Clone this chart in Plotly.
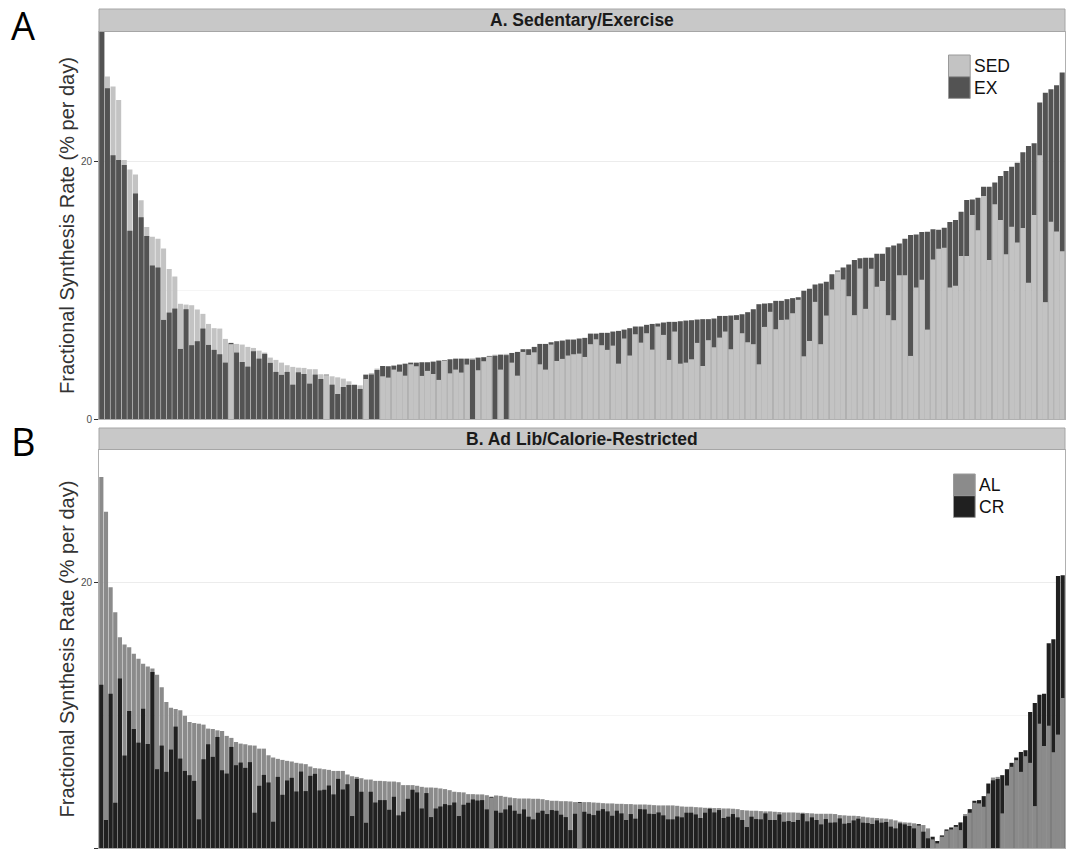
import numpy as np
import plotly.graph_objects as go

# ---- Panel A: sedentary vs exercise, fractional synthesis rate (% per day) ----
sed = [31.0, 26.55, 25.77, 24.73, 20.08, 19.35, 18.96, 16.95, 14.88, 14.13,
       13.97, 13.22, 11.62, 11.05, 8.93, 8.87, 8.82, 8.49, 8.15, 7.37,
       7.04, 7.01, 6.21, 5.80, 5.82, 5.77, 5.59, 5.51, 5.30, 5.15,
       4.76, 4.58, 4.37, 4.17, 4.04, 3.98, 3.96, 3.86, 3.86, 3.47,
       3.40, 3.31, 3.23, 3.13, 2.92, 2.68, 2.61,
       3.10, 3.57, 3.91, 3.31, 3.21, 3.83, 3.67, 3.36, 4.24, 4.09,
       3.34, 3.73, 3.49, 3.03, 4.50, 3.54, 3.83, 3.60, 4.22, 4.71,
       3.78, 4.48, 4.84, 4.99, 3.83, 5.05, 4.37, 3.36, 5.20, 4.97,
       5.17, 4.24, 3.83, 5.77, 4.50, 4.66, 4.92, 5.02, 5.07, 4.81,
       5.80, 6.18, 5.72, 5.36, 5.69, 4.29, 6.24, 4.92, 6.57, 5.92,
       6.65, 5.38, 7.17, 6.52, 4.58, 6.78, 4.29, 4.37, 4.63, 5.90,
       4.11, 6.11, 5.56, 6.31, 6.78, 5.41, 7.68, 6.65, 5.95, 5.80,
       4.24, 7.14, 8.31, 6.96, 7.68, 7.71, 8.20, 9.24, 4.86, 6.05,
       9.08, 5.80, 8.02, 10.04, 11.44, 10.81, 9.52, 8.05, 11.67, 8.54,
       11.64, 10.25, 10.69, 8.05, 7.66, 11.15, 11.15, 4.89, 10.19, 10.79,
       6.93, 12.37, 13.20, 13.27, 10.19, 10.32, 12.63, 12.63, 15.81, 14.64,
       17.28, 12.32, 16.64, 15.42, 12.78, 14.90, 13.69, 14.80, 10.56, 15.81,
       20.44, 9.06, 15.29, 14.54, 13.01]
ex = [30.5, 25.64, 20.44, 20.08, 19.69, 14.59, 17.49, 15.63, 14.18, 11.90,
      11.75, 7.68, 8.25, 8.56, 5.43, 8.51, 5.72, 6.03, 7.01, 5.74,
      5.36, 5.02, 4.37, 5.90, 5.15, 4.42, 4.06, 5.25, 4.68, 5.05,
      4.35, 3.65, 3.42, 3.65, 2.66, 3.62, 3.49, 2.74, 3.44, 3.10,
      3.44, 2.66, 1.94, 2.48, 2.64, 2.64, 2.33,
      3.44, 3.45, 3.80, 4.11, 4.09, 4.14, 4.22, 4.29, 4.37, 4.37,
      4.40, 4.40, 4.45, 4.53, 4.55, 4.63, 4.68, 4.68, 4.68, 4.60,
      4.76, 4.79, 4.89, 4.90, 4.99, 4.95, 5.12, 5.20, 5.41, 5.41,
      5.59, 5.82, 5.82, 5.95, 6.03, 6.08, 6.16, 6.16, 6.24, 6.29,
      6.62, 6.62, 6.68, 6.68, 6.78, 6.83, 6.93, 7.04, 7.17, 7.17,
      7.30, 7.37, 7.40, 7.48, 7.53, 7.53, 7.58, 7.63, 7.66, 7.71,
      7.74, 7.74, 7.79, 7.99, 7.99, 8.02, 8.05, 8.12, 8.28, 8.51,
      8.90, 8.95, 8.98, 9.16, 9.16, 9.29, 9.37, 9.44, 9.94, 10.09,
      10.43, 10.50, 10.63, 11.23, 11.51, 11.75, 11.98, 12.32, 12.47, 12.50,
      12.50, 12.81, 12.81, 13.32, 13.45, 13.61, 13.97, 14.26, 14.31, 14.49,
      14.51, 14.70, 14.67, 14.83, 15.27, 15.42, 16.07, 16.97, 17.02, 17.15,
      18.01, 18.01, 18.34, 18.84, 19.22, 19.56, 19.87, 20.67, 21.16, 21.37,
      24.53, 25.30, 25.56, 25.87, 26.86]

# ---- Panel B: ad lib vs calorie-restricted ----
al = [27.97, 25.34, 19.65, 17.77, 15.89, 15.34, 15.14, 14.64, 14.26, 13.88,
      13.68, 13.53, 13.06, 12.11, 11.00, 10.58, 10.48, 10.38, 9.97, 9.50,
      9.42, 9.37, 9.30, 9.00, 8.97, 8.87, 8.82, 8.45, 8.30, 7.99,
      7.87, 7.82, 7.74, 7.72, 7.49, 7.49, 6.99, 6.82, 6.72, 6.64,
      6.57, 6.52, 6.42, 6.37, 6.32, 6.14, 6.02, 5.99, 5.94, 5.89,
      5.81, 5.81, 5.81, 5.54, 5.41, 5.36, 5.26, 5.16, 5.16, 5.06,
      5.06, 5.04, 5.01, 5.01, 4.96, 4.74, 4.74, 4.74, 4.69, 4.61,
      4.56, 4.56, 4.54, 4.49, 4.44, 4.36, 4.24, 4.21, 4.19, 4.06,
      4.06, 4.04, 4.04, 3.98, 3.80, 3.96, 3.93, 3.86, 3.81, 3.76,
      3.73, 3.73, 3.73, 3.71, 3.71, 3.68, 3.61, 3.56, 3.56, 3.53,
      3.53, 3.51, 3.46, 3.40, 3.46, 3.46, 3.43, 3.41, 3.38, 3.36,
      3.36, 3.33, 3.33, 3.31, 3.31, 3.28, 3.28, 3.28, 3.26, 3.23,
      3.21, 3.21, 3.21, 3.21, 3.18, 3.13, 3.11, 3.11, 3.08, 3.06,
      3.03, 3.03, 3.01, 3.01, 2.98, 2.98, 2.96, 2.93, 2.86, 2.83,
      2.81, 2.81, 2.78, 2.76, 2.76, 2.73, 2.71, 2.68, 2.68, 2.68,
      2.66, 2.66, 2.63, 2.61, 2.58, 2.58, 2.58, 2.58, 2.56, 2.48,
      2.46, 2.43, 2.43, 2.41, 2.36, 2.31, 2.28, 2.26, 2.23, 2.21,
      2.16, 2.08, 1.98, 1.93, 1.91, 1.86, 1.70, 1.73, 1.48, 0.65,
      0.35, 0.85, 1.30, 1.40, 1.60, 1.35, 2.56, 2.66, 3.41, 3.36,
      3.11, 4.11, 5.31, 5.36, 2.61, 4.71, 6.12, 6.62, 5.74, 6.92,
      6.42, 3.16, 9.37, 7.69, 9.22, 7.22, 8.55, 11.30]
cr = [12.31, 2.11, 11.63, 3.41, 12.78, 6.97, 10.33, 8.97, 7.94, 10.50,
      7.84, 13.26, 5.94, 7.72, 5.74, 7.42, 9.15, 6.74, 5.81, 5.49,
      5.06, 2.16, 6.69, 7.82, 6.87, 8.37, 5.86, 5.61, 7.62, 6.24,
      6.44, 6.04, 6.47, 2.66, 4.69, 5.51, 4.94, 1.98, 5.36, 4.01,
      5.09, 5.29, 4.26, 5.76, 4.29, 5.44, 5.59, 4.34, 4.39, 4.71,
      4.04, 5.21, 4.41, 4.81, 2.41, 5.21, 4.24, 1.90, 4.24, 3.43,
      3.61, 3.61, 2.88, 3.86, 2.46, 2.73, 3.71, 4.39, 4.19, 2.98,
      4.14, 2.33, 2.98, 3.13, 3.31, 3.23, 3.43, 2.41, 3.26, 3.41,
      3.66, 3.58, 3.61, 2.91, 3.86, 2.81, 2.66, 2.91, 3.21, 2.81,
      2.58, 2.91, 2.36, 2.16, 2.66, 2.81, 2.56, 2.86, 2.81, 2.51,
      2.33, 1.35, 2.58, 3.46, 2.73, 2.58, 2.48, 2.81, 2.93, 2.76,
      2.43, 2.81, 2.61, 2.11, 2.56, 2.21, 2.93, 2.91, 2.58, 2.56,
      2.68, 2.46, 2.16, 2.16, 2.38, 2.31, 2.66, 2.66, 2.53, 2.26,
      2.66, 2.96, 2.68, 2.86, 2.26, 2.36, 2.56, 2.31, 2.11, 1.58,
      2.36, 2.18, 2.16, 2.61, 2.11, 2.11, 2.53, 1.98, 2.03, 1.96,
      2.11, 2.58, 2.01, 2.31, 2.11, 1.78, 2.18, 1.91, 1.93, 2.23,
      1.83, 1.88, 2.08, 2.21, 1.91, 1.88, 1.81, 2.08, 1.91, 1.96,
      1.61, 1.48, 1.86, 1.78, 1.66, 1.48, 1.80, 1.23, 0.73, 0.85,
      0.53, 0.95, 1.40, 1.55, 1.73, 1.93, 2.40, 2.93, 3.56, 3.61,
      3.91, 4.86, 5.10, 5.20, 5.49, 5.94, 6.42, 6.82, 7.24, 7.37,
      10.25, 10.93, 11.55, 11.63, 15.44, 15.74, 20.50, 20.55]

Y_MAX = 30
Y_TICKS = [0, 20]
Y_TITLE = "Fractional Synthesis Rate (% per day)"

SED_C, EX_C = "#c3c3c3", "#535353"
AL_C, CR_C = "#8b8b8b", "#202020"
BORDER = "#b0b0b0"
STRIP_FILL, STRIP_LINE = "#c8c8c8", "#a6a6a6"

# canvas geometry (pixels)
W, H = 1068, 853
ML, MR, MT, MB = 99, 3, 0, 5
PW, PH = W - ML - MR, H - MT - MB


def fx(px):
    return (px - ML) / PW


def fy(py):
    return 1 - (py - MT) / PH


def overlay_pair(a, b, col_a, col_b, xa, ya):
    """Both series drawn from zero; the taller bar sits behind the shorter one."""
    a = np.asarray(a, dtype=float)
    b = np.asarray(b, dtype=float)
    idx = np.arange(len(a))
    a_top = a >= b
    hi = np.where(a_top, a, b)
    lo = np.where(a_top, b, a)
    hi_col = np.where(a_top, col_a, col_b).tolist()
    lo_col = np.where(a_top, col_b, col_a).tolist()
    common = dict(x=idx, xaxis=xa, yaxis=ya, showlegend=False, hoverinfo="skip")
    return [
        go.Bar(y=hi, marker=dict(color=hi_col, line=dict(width=0)), **common),
        go.Bar(y=lo, marker=dict(color=lo_col, line=dict(width=0)), **common),
    ]


fig = go.Figure()
for tr in overlay_pair(sed, ex, SED_C, EX_C, "x", "y"):
    fig.add_trace(tr)
for tr in overlay_pair(al, cr, AL_C, CR_C, "x2", "y2"):
    fig.add_trace(tr)


def xaxis_cfg(n, anchor):
    return dict(domain=[0, 1], range=[-0.5, n - 0.5], anchor=anchor,
                showticklabels=False, ticks="", showgrid=False, zeroline=False,
                showline=True, mirror=True, linecolor=BORDER, linewidth=1)


def yaxis_cfg(dom, anchor):
    return dict(domain=dom, range=[0, Y_MAX], anchor=anchor,
                tickmode="array", tickvals=Y_TICKS, ticks="outside", ticklen=4,
                tickcolor="#333333", tickfont=dict(size=10, color="#4d4d4d"),
                showgrid=True, gridcolor="#ececec", gridwidth=1,
                minor=dict(tickvals=[10], showgrid=True, gridcolor="#f5f5f5", ticks=""),
                zeroline=False, showline=True, mirror=True, linecolor=BORDER, linewidth=1,
                title=dict(text=Y_TITLE, font=dict(size=20, color="#333333"), standoff=0))


shapes = []
annotations = []

# facet strips
for (top, bot, label) in [(9, 31.5, "A. Sedentary/Exercise"),
                          (428, 449.5, "B. Ad Lib/Calorie-Restricted")]:
    shapes.append(dict(type="rect", xref="paper", yref="paper",
                       x0=0, x1=1, y0=fy(bot), y1=fy(top),
                       fillcolor=STRIP_FILL, line=dict(color=STRIP_LINE, width=1), layer="above"))
    annotations.append(dict(text=f"<b>{label}</b>", xref="paper", yref="paper",
                            x=0.5, y=fy((top + bot) / 2), showarrow=False,
                            font=dict(size=17.5, color="#1a1a1a"),
                            xanchor="center", yanchor="middle"))

# panel letters
for letter, cy in [("A", 25), ("B", 441)]:
    annotations.append(dict(text=letter, xref="paper", yref="paper",
                            x=fx(23), y=fy(cy), showarrow=False,
                            font=dict(size=38, color="#000000", family="Open Sans"),
                            xanchor="center", yanchor="middle"))

# legends (stacked square keys)
for (x0, y0, names, cols) in [(948.5, 55, ["SED", "EX"], [SED_C, EX_C]),
                              (953.5, 474, ["AL", "CR"], [AL_C, CR_C])]:
    key = 21.7
    for i, (nm, col) in enumerate(zip(names, cols)):
        ty = y0 + i * key
        shapes.append(dict(type="rect", xref="paper", yref="paper",
                           x0=fx(x0), x1=fx(x0 + key), y0=fy(ty + key), y1=fy(ty),
                           fillcolor=col, line=dict(color="#9a9a9a", width=1), layer="above"))
        annotations.append(dict(text=nm, xref="paper", yref="paper",
                                x=fx(x0 + key + 1.5), y=fy(ty + key / 2), showarrow=False,
                                font=dict(size=17.5, color="#111111"),
                                xanchor="left", yanchor="middle"))

fig.update_layout(
    width=W, height=H,
    margin=dict(l=ML, r=MR, t=MT, b=MB, autoexpand=False),
    paper_bgcolor="white", plot_bgcolor="white",
    barmode="overlay", bargap=0.1,
    font=dict(family="Liberation Sans, Arial, sans-serif"),
    xaxis=xaxis_cfg(len(sed), "y"),
    yaxis=yaxis_cfg([fy(419), fy(32)], "x"),
    xaxis2=xaxis_cfg(len(al), "y2"),
    yaxis2=yaxis_cfg([fy(848), fy(450)], "x2"),
    shapes=shapes, annotations=annotations,
    showlegend=False,
)

fig.write_html("out.html")
